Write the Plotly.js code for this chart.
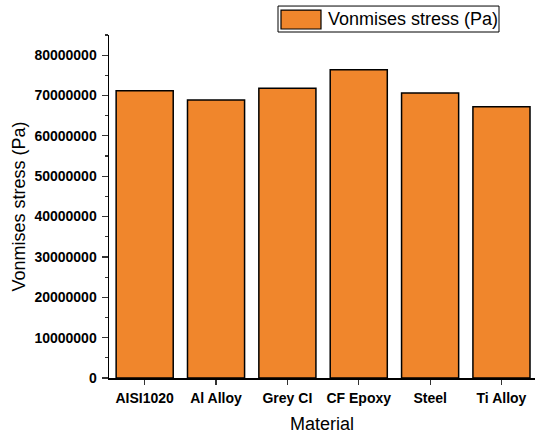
<!DOCTYPE html>
<html>
<head>
<meta charset="utf-8">
<script src="https://cdn.plot.ly/plotly-3.0.1.min.js"></script>
<style>
html,body{margin:0;padding:0;background:#fff;}
#chart{width:535px;height:434px;}
</style>
</head>
<body>
<div id="chart"></div>
<script>
// Data
var materials = ["AISI1020", "Al Alloy", "Grey CI", "CF Epoxy", "Steel", "Ti Alloy"];
var vonmisesStress = [71200000, 68900000, 71800000, 76400000, 70600000, 67200000];
var seriesName = "Vonmises stress (Pa)";
var xTitle = "Material";
var yTitle = "Vonmises stress (Pa)";
var yTickVals = [0, 10000000, 20000000, 30000000, 40000000, 50000000, 60000000, 70000000, 80000000];
var yTickText = ["0", "10000000", "20000000", "30000000", "40000000", "50000000", "60000000", "70000000", "80000000"];

var barColor = "#F0862C";
var FONT = "Liberation Sans, Arial, Helvetica, sans-serif";

var boundaries = materials.map(function(_, i){ return i - 0.5; });
boundaries.push(materials.length - 0.5);

var trace = {
  type: "bar",
  x: materials,
  y: vonmisesStress,
  name: seriesName,
  width: 0.8,
  marker: {color: barColor, line: {color: "#000", width: 1.5}},
  showlegend: false,
  hoverinfo: "x+y"
};

var xRange = [-0.5, 5.47];

var layout = {
  width: 535,
  height: 434,
  margin: {l: 109, r: 0, t: 35, b: 55.5},
  paper_bgcolor: "#fff",
  plot_bgcolor: "#fff",
  font: {family: FONT, color: "#000"},
  bargap: 0.2,
  xaxis: {
    type: "category",
    range: xRange,
    showline: true, linecolor: "#000", linewidth: 1.5,
    ticks: "outside", ticklen: 5, tickwidth: 1.2, tickcolor: "#333",
    tickfont: {family: FONT, size: 14, color: "#000", weight: "bold"},
    ticklabelstandoff: 2,
    showgrid: false, zeroline: false,
    title: {text: xTitle, font: {family: FONT, size: 18, color: "#000"}, standoff: 14},
    fixedrange: true
  },
  xaxis2: {
    overlaying: "x",
    anchor: "y",
    side: "bottom",
    type: "linear",
    range: xRange,
    tickmode: "array",
    tickvals: boundaries,
    showticklabels: false,
    ticks: "outside", ticklen: 3, tickwidth: 1.2, tickcolor: "#333",
    showline: false, showgrid: false, zeroline: false
  },
  yaxis: {
    range: [0, 85000000],
    showline: true, linecolor: "#000", linewidth: 1.5,
    ticks: "outside", ticklen: 6, tickwidth: 1.2, tickcolor: "#333",
    tickmode: "array", tickvals: yTickVals, ticktext: yTickText,
    tickfont: {family: FONT, size: 14, color: "#000", weight: "bold"},
    ticklabelstandoff: 2,
    minor: {dtick: 5000000, ticks: "outside", ticklen: 3, tickwidth: 1.2, tickcolor: "#333", showgrid: false},
    showgrid: false, zeroline: false,
    title: {text: yTitle, font: {family: FONT, size: 18, color: "#000"}, standoff: 4},
    fixedrange: true
  },
  shapes: [
    {type: "rect", xref: "paper", yref: "paper",
     x0: (278 - 109) / 426, x1: (499 - 109) / 426,
     y0: (378.5 - 32) / 343.5, y1: (378.5 - 6) / 343.5,
     line: {color: "#000", width: 1}, fillcolor: "#fff"},
    {type: "rect", xref: "paper", yref: "paper",
     x0: (281 - 109) / 426, x1: (321 - 109) / 426,
     y0: (378.5 - 29) / 343.5, y1: (378.5 - 10) / 343.5,
     line: {color: "#000", width: 1.2}, fillcolor: barColor}
  ],
  annotations: [
    {xref: "paper", yref: "paper",
     x: (326 - 109) / 426, y: (378.5 - 19) / 343.5,
     xanchor: "left", yanchor: "middle", showarrow: false,
     text: seriesName, font: {family: FONT, size: 18, color: "#000"}}
  ]
};

Plotly.newPlot("chart", [trace], layout, {displayModeBar: false, staticPlot: true});
</script>
</body>
</html>
